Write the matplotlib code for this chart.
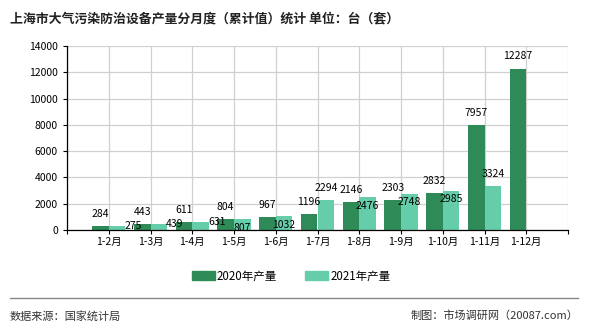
import matplotlib
matplotlib.use("Agg")
import matplotlib.pyplot as plt
import numpy as np
from matplotlib.lines import Line2D
from matplotlib.patches import Patch

plt.rcParams['font.family'] = ['Noto Sans CJK SC', 'DejaVu Sans']

# data
months = ['1-2月', '1-3月', '1-4月', '1-5月', '1-6月', '1-7月',
          '1-8月', '1-9月', '1-10月', '1-11月', '1-12月']
prod_2020 = [284, 443, 611, 804, 967, 1196, 2146, 2303, 2832, 7957, 12287]
prod_2021 = [275, 439, 631, 807, 1032, 2294, 2476, 2748, 2985, 3324]

# label placement for the 2021 series (as laid out in the original)
lab21_mode = ['right', 'right', 'right', 'inside', 'inside', 'top',
              'inside', 'inside', 'inside', 'top']

c20 = '#2e8b57'
c21 = '#66cdaa'

fig = plt.figure(figsize=(5.9, 3.3), dpi=100)
ax = fig.add_axes([67 / 590, 100 / 330, 501 / 590, 184 / 330])

x = np.arange(len(months))
w = 0.4
ax.bar(x[:len(prod_2020)] - w / 2, prod_2020, w, color=c20, zorder=2)
ax.bar(x[:len(prod_2021)] + w / 2, prod_2021, w, color=c21, zorder=2)

ax.set_xlim(-1, len(months))
ax.set_ylim(0, 14000)
ax.set_yticks(np.arange(0, 14001, 2000))
ax.set_xticks(np.arange(-1, len(months) + 1))
ax.set_xticklabels([''] + months + [''])
ax.tick_params(axis='both', labelsize=7.5, length=3, width=0.8, colors='black')
ax.tick_params(axis='x', pad=2)
ax.grid(True, color='#d0d0d0', linewidth=0.9, zorder=0)
for s in ['top', 'right']:
    ax.spines[s].set_visible(False)
for s in ['left', 'bottom']:
    ax.spines[s].set_linewidth(0.9)

# value labels
for xi, v in zip(x, prod_2020):
    ax.annotate(str(v), (xi - w / 2, v), xytext=(0, 8.8), textcoords='offset points',
                ha='center', va='center', fontsize=7.5)
for xi, v, m in zip(x, prod_2021, lab21_mode):
    if m == 'right':
        off = (11.5, 0)
    elif m == 'inside':
        off = (0, -6)
    else:
        off = (0, 8.8)
    ax.annotate(str(v), (xi + w / 2, v), xytext=off, textcoords='offset points',
                ha='center', va='center', fontsize=7.5)

# title
fig.text(10 / 590, 1 - 18 / 330, '上海市大气污染防治设备产量分月度（累计值）统计 单位：台（套）',
         fontsize=9.3, fontweight='bold', ha='left', va='center', color='#222222')

# legend
handles = [Patch(color=c20, label='2020年产量'), Patch(color=c21, label='2021年产量')]
fig.legend(handles=handles, loc='center', bbox_to_anchor=(291 / 590, 1 - 276 / 330),
           ncol=2, frameon=False, fontsize=8.3, handlelength=2.0, handleheight=0.8,
           handletextpad=0.2, columnspacing=2.4)

# footer
fig.add_artist(Line2D([10 / 590, 578 / 590], [1 - 298 / 330, 1 - 298 / 330],
                      color='#888888', linewidth=1))
fig.text(10 / 590, 1 - 316 / 330, '数据来源：国家统计局', fontsize=8, ha='left', va='center',
         color='#333333')
fig.text(578 / 590, 1 - 316 / 330, '制图：市场调研网（20087.com）', fontsize=8, ha='right',
         va='center', color='#333333')

plt.savefig('out.png', dpi=100)
